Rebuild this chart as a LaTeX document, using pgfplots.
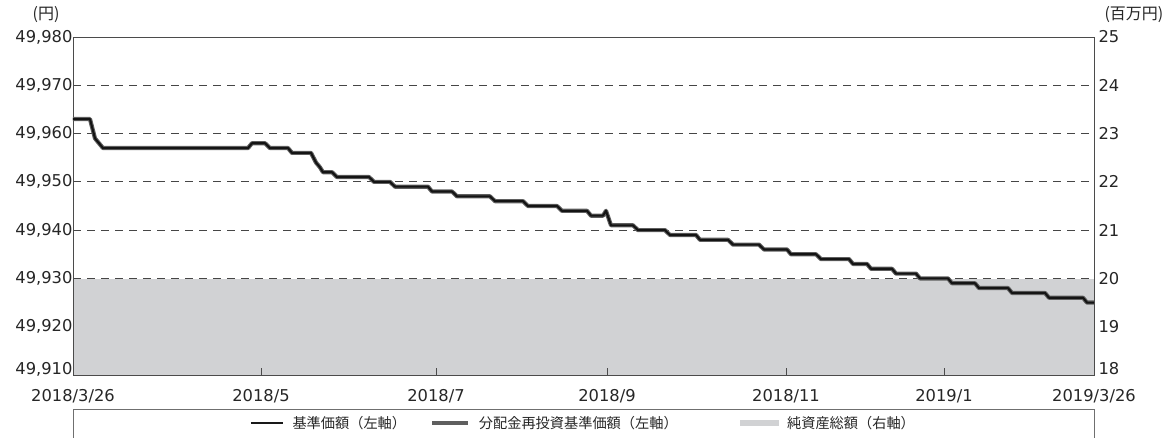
\documentclass[border=0pt]{standalone}
\usepackage{fontspec}
\setmainfont{DejaVu Sans}
\newfontfamily\jp{Noto Sans CJK JP}
\usepackage{pgfplots}
\pgfplotsset{compat=1.18}
\definecolor{axgray}{RGB}{75,75,75}
\definecolor{areagray}{RGB}{209,210,212}
\definecolor{reinv}{RGB}{95,95,95}
\definecolor{gridgray}{RGB}{70,70,70}
\begin{document}
\begin{tikzpicture}
\useasboundingbox (-73pt,-62pt) rectangle (1101pt,375pt);
\pgfplotsset{
  base/.style={
    scale only axis, width=1021pt, height=338pt,
    xmin=73, xmax=1094,
    scaled y ticks=false,
    /pgf/number format/assume math mode=true,
    /pgf/number format/fixed,
    /pgf/number format/precision=0,
    /pgf/number format/1000 sep={,},
    tick label style={font=\fontsize{16.3}{18}\selectfont, text=black!85},
    axis line style={axgray, line width=0.9pt},
    every tick/.style={axgray, line width=0.9pt},
  }
}
% right axis: grid + net assets area
\begin{axis}[base,
  ymin=18, ymax=25, ytick={19,20,...,25},
  extra y ticks={18},
  extra y tick style={grid=none, yticklabel style={yshift=6pt}},
  yticklabel pos=right,
  xtick=\empty,
  ymajorgrids,
  major grid style={gridgray, line width=0.8pt, dash pattern=on 8pt off 6pt},
  major tick length=0pt,
  yticklabel style={xshift=1pt},
  ylabel={\jp (百万円)},
  every axis y label/.style={at={(rel axis cs:1,1)}, anchor=base west, xshift=7pt, yshift=18pt, font=\jp\fontsize{16}{18}\selectfont, text=black!85},
]
\addplot[fill=areagray, draw=none] coordinates {(73,19.99) (1094,19.99)} \closedcycle;
\end{axis}
% left axis: price lines
\begin{axis}[base,
  ymin=49910, ymax=49980, ytick={49920,49930,49940,49950,49960,49970,49980},
  extra y ticks={49910},
  extra y tick style={yticklabel style={yshift=6pt}, major tick length=0pt},
  yticklabel pos=left,
  ytick style={draw=none},
  xtick={73,261,436,607,786,944,1094},
  xticklabels={2018/3/26,2018/5,2018/7,2018/9,2018/11,2019/1,2019/3/26},
  xtick pos=bottom, xtick align=inside, major tick length=7pt,
  xticklabel style={yshift=-11pt},
  yticklabel style={xshift=3pt},
  ylabel={\jp (円)},
  every axis y label/.style={at={(rel axis cs:0,1)}, anchor=base east, xshift=-10pt, yshift=18pt, font=\jp\fontsize{16}{18}\selectfont, text=black!85},
  legend columns=3,
  legend style={at={(0.5,0)}, anchor=center, yshift=-48pt, draw=none, fill=none,
    font=\jp\fontsize{14.2}{16}\selectfont, text=black!85,
    /tikz/every even column/.append style={column sep=22pt},
    /tikz/every odd column/.append style={column sep=7pt}},
]
\pgfplotstableread{
x y
73 49963
90 49963
95 49959
103 49957
248 49957
252 49958
265 49958
270 49957
288 49957
292 49956
311 49956
316 49954
320 49953
323 49952
332 49952
337 49951
369 49951
374 49950
390 49950
395 49949
428 49949
432 49948
452 49948
457 49947
490 49947
495 49946
523 49946
528 49945
557 49945
562 49944
587 49944
591 49943
603 49943
606 49944
611 49941
633 49941
638 49940
665 49940
670 49939
696 49939
700 49938
728 49938
733 49937
759 49937
764 49936
787 49936
791 49935
816 49935
821 49934
849 49934
853 49933
867 49933
871 49932
892 49932
896 49931
916 49931
920 49930
948 49930
952 49929
975 49929
979 49928
1008 49928
1012 49927
1045 49927
1049 49926
1083 49926
1087 49925
1094 49925
}\navtable
\addplot[reinv, line width=4.2pt, line join=round, forget plot] table {\navtable};
\addplot[black!92, line width=2.1pt, line join=round, forget plot] table {\navtable};
\addlegendimage{legend image code/.code={\draw[black!90, line width=1.4pt] (0pt,0pt) -- (32pt,0pt);}}
\addlegendentry{基準価額（左軸）}
\addlegendimage{legend image code/.code={\draw[reinv, line width=3.8pt] (0pt,0pt) -- (36pt,0pt);}}
\addlegendentry{分配金再投資基準価額（左軸）\hspace*{38pt}\mbox{}}
\addlegendimage{legend image code/.code={\fill[areagray] (0pt,-2.6pt) rectangle (38pt,2.6pt);}}
\addlegendentry{純資産総額（右軸）}
\end{axis}
\draw[axgray!80, line width=0.9pt] (0pt,-90pt) -- (0pt,-34pt) -- (1021pt,-34pt) -- (1021pt,-90pt);
\end{tikzpicture}
\end{document}
